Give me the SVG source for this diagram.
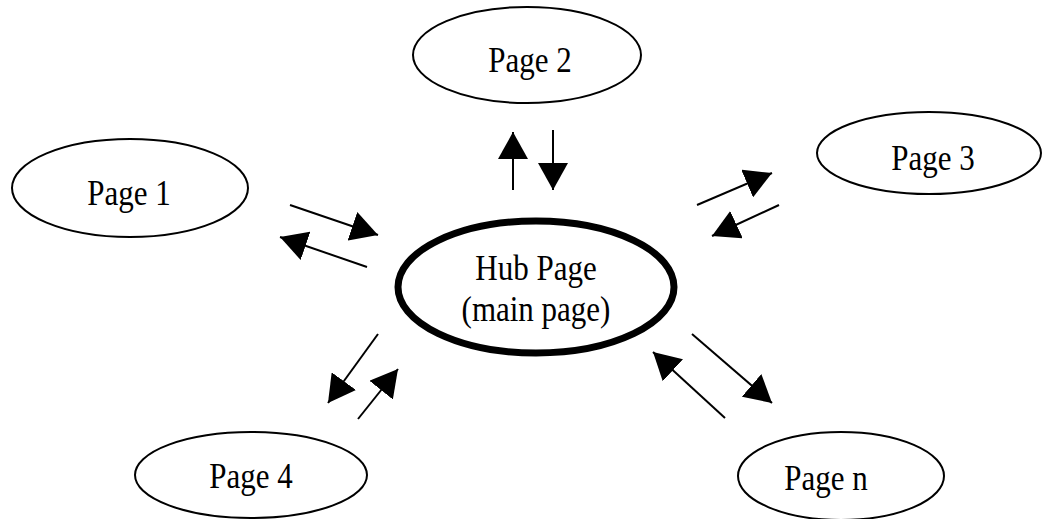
<svg xmlns="http://www.w3.org/2000/svg" width="1044" height="519" viewBox="0 0 1044 519">
  <style>
    .page { fill: #ffffff; stroke: #000000; stroke-width: 2; }
    .hub { fill: #ffffff; stroke: #000000; stroke-width: 7; }
    .label { font-family: "Liberation Serif", "Times New Roman", serif; font-size: 31px; fill: #000000; text-anchor: middle; }
    .link { stroke: #000000; stroke-width: 2; fill: none; marker-end: url(#head); }
  </style>
  <defs>
    <!-- solid triangular arrowhead, tip at the end of each line -->
    <marker id="head" viewBox="0 0 27 30" refX="27" refY="15" markerWidth="27" markerHeight="30" markerUnits="userSpaceOnUse" orient="auto">
      <path d="M0,0 L27,15 L0,30 Z" fill="#000000"/>
    </marker>
  </defs>
  <rect width="1044" height="519" fill="#ffffff"/>

  <g id="hub">
    <ellipse class="hub" cx="536" cy="287" rx="138" ry="66"/>
    <text class="label" transform="translate(536,280) scale(1,1.13)">Hub Page</text>
    <text class="label" transform="translate(536,321) scale(1,1.13)">(main page)</text>
  </g>
  <g id="page1">
    <ellipse class="page" cx="130" cy="188" rx="118" ry="49"/>
    <text class="label" transform="translate(129,205) scale(1,1.13)">Page 1</text>
  </g>
  <g id="page2">
    <ellipse class="page" cx="527" cy="55" rx="114" ry="48"/>
    <text class="label" transform="translate(530,72) scale(1,1.13)">Page 2</text>
  </g>
  <g id="page3">
    <ellipse class="page" cx="929" cy="153" rx="112" ry="41"/>
    <text class="label" transform="translate(933,170) scale(1,1.13)">Page 3</text>
  </g>
  <g id="page4">
    <ellipse class="page" cx="251" cy="475" rx="116" ry="43"/>
    <text class="label" transform="translate(251,488) scale(1,1.13)">Page 4</text>
  </g>
  <g id="pagen">
    <ellipse class="page" cx="841" cy="476" rx="103" ry="44"/>
    <text class="label" transform="translate(826,490) scale(1,1.13)">Page n</text>
  </g>

  <g id="connectors">
    <line class="link" x1="290" y1="205" x2="378" y2="235"/>
    <line class="link" x1="367" y1="267" x2="280" y2="237"/>
    <line class="link" x1="513" y1="190" x2="513" y2="132"/>
    <line class="link" x1="553" y1="130" x2="553" y2="190"/>
    <line class="link" x1="697" y1="205" x2="772" y2="173"/>
    <line class="link" x1="779" y1="205" x2="712" y2="236"/>
    <line class="link" x1="378" y1="334" x2="328" y2="403"/>
    <line class="link" x1="358" y1="419" x2="398" y2="369"/>
    <line class="link" x1="692" y1="334" x2="772" y2="403"/>
    <line class="link" x1="725" y1="418" x2="653" y2="352"/>
  </g>
</svg>
